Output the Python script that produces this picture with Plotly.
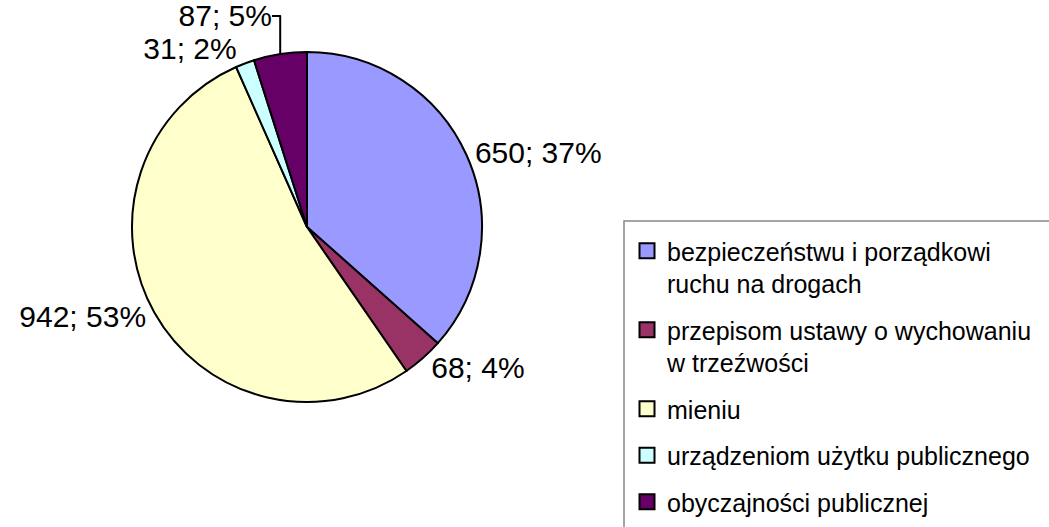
import plotly.graph_objects as go

# data
categories = [
    "bezpieczeństwu i porządkowi<br>ruchu na drogach",
    "przepisom ustawy o wychowaniu<br>w trzeźwości",
    "mieniu",
    "urządzeniom użytku publicznego",
    "obyczajności publicznej",
]
values = [650, 68, 942, 31, 87]
colors = ["#9999FF", "#993366", "#FFFFCC", "#CCFFFF", "#660066"]

W, H = 1049, 527
FONT = "Liberation Sans, Arial, sans-serif"

fig = go.Figure()

fig.add_trace(
    go.Pie(
        labels=categories,
        values=values,
        sort=False,
        direction="clockwise",
        rotation=0,
        marker=dict(colors=colors, line=dict(color="black", width=2)),
        texttemplate="%{value}; %{percent:.0%}",
        textposition="outside",
        textfont=dict(family=FONT, size=30, color="black"),
        showlegend=False,
        hoverinfo="label+value+percent",
        domain=dict(x=[132 / W, 482 / W], y=[(H - 402) / H, (H - 52) / H]),
    )
)

# legend entries, one group each so the gap between items can be set
for name, color in zip(categories, colors):
    fig.add_trace(
        go.Scatter(
            x=[None],
            y=[None],
            mode="markers",
            name=name,
            legendgroup=name,
            marker=dict(symbol="square", size=15, color=color,
                        line=dict(color="black", width=2)),
        )
    )

# legend frame, runs off the right and bottom edges like the original
fig.add_shape(
    type="rect", xref="paper", yref="paper",
    x0=624 / W, x1=1.2, y0=-0.2, y1=(H - 221) / H,
    line=dict(color="#888888", width=1.5),
    fillcolor="rgba(0,0,0,0)",
)

fig.update_layout(
    width=W,
    height=H,
    margin=dict(l=0, r=0, t=0, b=0, autoexpand=False),
    paper_bgcolor="white",
    plot_bgcolor="white",
    xaxis=dict(visible=False),
    yaxis=dict(visible=False),
    showlegend=True,
    legend=dict(
        x=627 / W, y=(H - 228) / H, xanchor="left", yanchor="top",
        font=dict(family=FONT, size=25, color="black"),
        bgcolor="rgba(0,0,0,0)",
        borderwidth=0,
        tracegroupgap=11,
        valign="top",
        itemclick=False,
    ),
)

# drop the browser's default page margin so the figure sits at the corner
fig.write_html(
    "out.html",
    config={"displayModeBar": False},
    post_script="document.body.style.margin = '0';",
)
